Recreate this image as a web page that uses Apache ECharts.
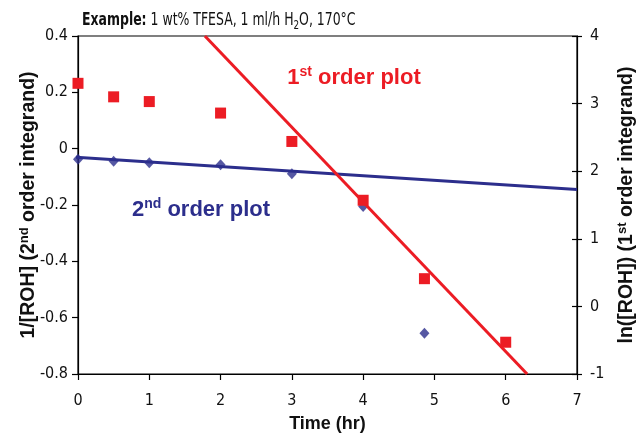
<!DOCTYPE html>
<html><head><meta charset="utf-8">
<script src="https://cdn.jsdelivr.net/npm/echarts@6/dist/echarts.min.js"></script>
<style>html,body{margin:0;padding:0;background:#fff}#c{width:637px;height:435px}</style>
</head><body><div id="c"></div>
<script>
// 2nd order data (1/[ROH], left axis)
const time2nd = [0, 0.5, 1, 2, 3, 4, 4.86];
const inv2nd = [-0.038, -0.045, -0.05, -0.057, -0.089, -0.205, -0.655];
// 1st order data (ln[ROH], right axis)
const time1st = [0, 0.5, 1, 2, 3, 4, 4.86, 6.0];
const ln1st = [3.30, 3.10, 3.03, 2.86, 2.44, 1.57, 0.41, -0.53];
// trend line endpoints
const fit2ndX = [-0.12, 7];
const fit2ndY = [-0.029, -0.145];
const fit1stX = [1.78, 6.30];
const fit1stY = [4, -1];
// axis ranges
const xRange = [0, 7, 1];
const leftRange = [-0.8, 0.4, 0.2];
const rightRange = [-1, 4, 1];

const RED = '#ec1c24';
const BLUE = '#2c2e8c';
const FONT = '"Liberation Sans", Arial, sans-serif';
const NARROW = '"Liberation Sans Narrow", "Arial Narrow", "DejaVu Sans Condensed", sans-serif';

const pair = (xs, ys) => xs.map((x, i) => [x, ys[i]]);

const chart = echarts.init(document.getElementById('c'), null, {renderer: 'canvas'});
const axisBase = {
  axisLine: {show: true, onZero: false, lineStyle: {color: '#000', width: 1.2}},
  splitLine: {show: false},
  axisLabel: {color: '#111', fontSize: 16, fontFamily: NARROW},
  axisTick: {show: true, length: 6, lineStyle: {color: '#000', width: 1.2}}
};
const supRich = {
  sup: {fontSize: 13, fontWeight: 'bold', fontFamily: FONT, lineHeight: 12, verticalAlign: 'top', color: '#111'}
};
chart.setOption({
  animation: false,
  backgroundColor: '#fff',
  grid: {left: 78, right: 60, top: 36, bottom: 61, show: true, borderColor: '#000', borderWidth: 1.2,
    containLabel: false, outerBoundsMode: 'none'},
  xAxis: [Object.assign({}, axisBase, {
    type: 'value', min: xRange[0], max: xRange[1], interval: xRange[2],
    name: 'Time (hr)', nameLocation: 'middle', nameGap: 41, nameMoveOverlap: false,
    nameTextStyle: {fontWeight: 'bold', fontSize: 18, fontFamily: FONT, color: '#111'},
    axisLabel: Object.assign({}, axisBase.axisLabel, {margin: 19})
  })],
  yAxis: [
    Object.assign({}, axisBase, {
      type: 'value', position: 'left', min: leftRange[0], max: leftRange[1], interval: leftRange[2],
      name: '1/[ROH] (2{sup|nd} order integrand)', nameLocation: 'middle', nameGap: 38, nameMoveOverlap: false,
      nameTextStyle: {fontWeight: 'bold', fontSize: 19.5, fontFamily: FONT, color: '#111', lineHeight: 22, rich: supRich},
      axisLabel: Object.assign({}, axisBase.axisLabel, {margin: 10, formatter: v => String(Math.round(v * 10) / 10)})
    }),
    Object.assign({}, axisBase, {
      type: 'value', position: 'right', min: rightRange[0], max: rightRange[1], interval: rightRange[2],
      name: 'ln([ROH]) (1{sup|st} order integrand)', nameLocation: 'middle', nameGap: 39, nameMoveOverlap: false,
      nameTextStyle: {fontWeight: 'bold', fontSize: 19.5, fontFamily: FONT, color: '#111', lineHeight: 22, rich: supRich},
      axisLabel: Object.assign({}, axisBase.axisLabel, {margin: 13}),
      axisTick: {show: true, length: 5, lineStyle: {color: '#000', width: 1.2}}
    }),
    {
      type: 'value', position: 'right', min: rightRange[0], max: rightRange[1], interval: rightRange[2],
      axisLine: {show: false, onZero: false}, splitLine: {show: false}, axisLabel: {show: false},
      axisTick: {show: true, inside: true, length: 5, lineStyle: {color: '#000', width: 1.2}}
    }
  ],
  series: [
    {
      type: 'line', name: '2nd fit', xAxisIndex: 0, yAxisIndex: 0, data: pair(fit2ndX, fit2ndY),
      showSymbol: false, symbol: 'none', clip: false, lineStyle: {color: BLUE, width: 3}, z: 2, silent: true
    },
    {
      type: 'scatter', name: '2nd', xAxisIndex: 0, yAxisIndex: 0, data: pair(time2nd, inv2nd),
      symbol: 'diamond', symbolSize: [10, 11], itemStyle: {color: BLUE}, z: 3
    },
    {
      type: 'line', name: '1st fit', xAxisIndex: 0, yAxisIndex: 1, data: pair(fit1stX, fit1stY),
      showSymbol: false, symbol: 'none', lineStyle: {color: RED, width: 3}, z: 4, silent: true
    },
    {
      type: 'scatter', name: '1st', xAxisIndex: 0, yAxisIndex: 1, data: pair(time1st, ln1st),
      symbol: 'rect', symbolSize: 11, itemStyle: {color: RED, opacity: 1}, z: 5
    }
  ],
  graphic: [
    {
      type: 'text', x: 82, y: 21, z: 100, scaleX: 0.815, scaleY: 1,
      style: {
        text: '{b|Example:}{n| 1 wt% TFESA, 1 ml/h H}{s|2}{n|O, 170°C}', align: 'left', verticalAlign: 'middle',
        rich: {
          b: {fontWeight: 'bold', fontSize: 17, fontFamily: NARROW, fill: '#111', lineHeight: 22},
          n: {fontWeight: 'normal', fontSize: 17, fontFamily: NARROW, fill: '#111', lineHeight: 22},
          s: {fontWeight: 'normal', fontSize: 12, fontFamily: NARROW, fill: '#111', lineHeight: 12, verticalAlign: 'bottom'}
        }
      }
    },
    {
      type: 'text', x: 354, y: 78, z: 100,
      style: {
        text: '{a|1}{s|st}{a| order plot}', align: 'center', verticalAlign: 'middle',
        rich: {
          a: {fontSize: 22, fontWeight: 'bold', fontFamily: FONT, fill: RED, lineHeight: 26},
          s: {fontSize: 14, fontWeight: 'bold', fontFamily: FONT, fill: RED, lineHeight: 15, verticalAlign: 'top'}
        }
      }
    },
    {
      type: 'text', x: 201, y: 210, z: 100,
      style: {
        text: '{a|2}{s|nd}{a| order plot}', align: 'center', verticalAlign: 'middle',
        rich: {
          a: {fontSize: 22, fontWeight: 'bold', fontFamily: FONT, fill: BLUE, lineHeight: 26},
          s: {fontSize: 14, fontWeight: 'bold', fontFamily: FONT, fill: BLUE, lineHeight: 15, verticalAlign: 'top'}
        }
      }
    }
  ]
});
</script>
</body></html>
